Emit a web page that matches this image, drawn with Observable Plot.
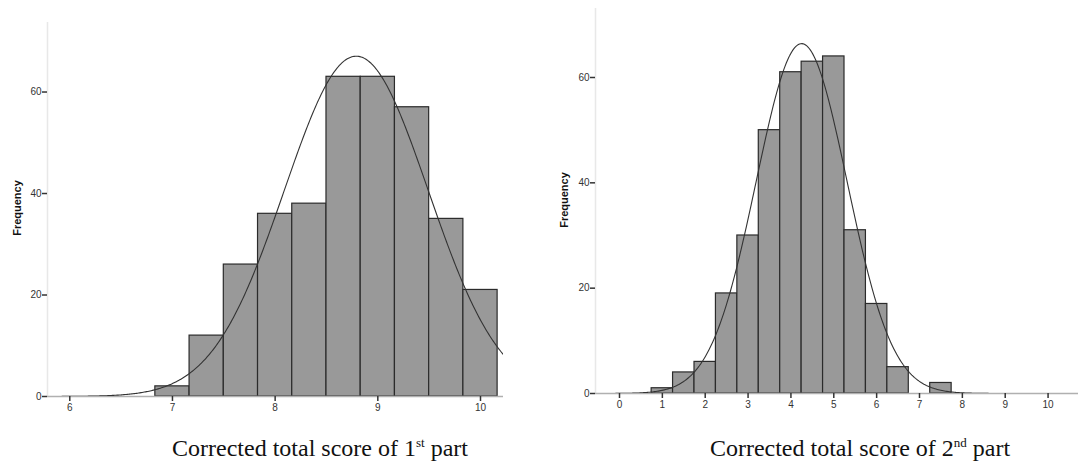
<!DOCTYPE html>
<html>
<head>
<meta charset="utf-8">
<script src="https://cdn.jsdelivr.net/npm/d3@7"></script>
<script src="https://cdn.jsdelivr.net/npm/@observablehq/plot@0.6"></script>
<style>
  html, body { margin: 0; padding: 0; background: #fff; }
  #root { position: relative; width: 1078px; height: 463px; overflow: hidden; }
  .panel { position: absolute; top: 0; }
  .caption { position: absolute; font-family: "Liberation Serif", "DejaVu Serif", serif; font-size: 24px; color: #111; white-space: nowrap; transform: translateX(-50%); }
  .caption sup { font-size: 13px; vertical-align: 9px; }
</style>
</head>
<body>
<div id="root"></div>
<script>
// ---- Panel 1 data: corrected total score of 1st part ----
const part1BinCenters = [7, 7.3333, 7.6667, 8, 8.3333, 8.6667, 9, 9.3333, 9.6667, 10];
const part1Counts     = [2, 12, 26, 36, 38, 63, 63, 57, 35, 21];
const part1BinWidth = 1 / 3;
const part1Mean = 8.79;
const part1SD = 0.70;
const part1XTicks = [6, 7, 8, 9, 10];

// ---- Panel 2 data: corrected total score of 2nd part ----
const part2BinCenters = [1, 1.5, 2, 2.5, 3, 3.5, 4, 4.5, 5, 5.5, 6, 6.5, 7, 7.5];
const part2Counts     = [1, 4, 6, 19, 30, 50, 61, 63, 64, 31, 17, 5, 0, 2];
const part2BinWidth = 0.5;
const part2Mean = 4.25;
const part2SD = 1.06;
const part2XTicks = [0, 1, 2, 3, 4, 5, 6, 7, 8, 9, 10];

const yTicks = [0, 20, 40, 60];

function histogram(opts) {
  const {centers, counts, binWidth, mean, sd, xDomain, yDomain, xTicks,
         width, height, marginLeft, marginRight, marginTop, marginBottom} = opts;
  const bins = centers.map((c, i) => ({x1: c - binWidth / 2, x2: c + binWidth / 2, count: counts[i]}))
                      .filter(d => d.count > 0);
  const n = d3.sum(counts);
  const curve = d3.range(0, 401).map(i => {
    const x = xDomain[0] + (xDomain[1] - xDomain[0]) * i / 400;
    const z = (x - mean) / sd;
    return {x, y: n * binWidth * Math.exp(-0.5 * z * z) / (sd * Math.sqrt(2 * Math.PI))};
  });
  return Plot.plot({
    width, height, marginLeft, marginRight, marginTop, marginBottom,
    style: {fontFamily: "Liberation Sans, Arial, sans-serif", fontSize: "10px", color: "#333", background: "transparent"},
    x: {domain: xDomain, ticks: xTicks, tickSize: 5, tickPadding: 2, label: null, tickFormat: "d"},
    y: {domain: yDomain, ticks: yTicks, tickSize: 5, tickPadding: 1, label: null, tickFormat: "d"},
    marks: [
      Plot.ruleX([xDomain[0]], {y1: 0, y2: yDomain[1], stroke: "#e8e8e8", strokeWidth: 1.5}),
      Plot.rectY(bins, {x1: "x1", x2: "x2", y: "count", fill: "#999999", stroke: "#2b2b2b", strokeWidth: 1.2, inset: 0}),
      Plot.ruleY([0], {stroke: "#b0b0b0", strokeWidth: 1.5}),
      Plot.line(curve, {x: "x", y: "y", stroke: "#333", strokeWidth: 1.1, clip: true}),
      Plot.axisX({ticks: xTicks, tickFormat: "d", tickSize: 5, tickPadding: 2, stroke: "#333", strokeWidth: 1.5, fill: "#333"}),
      Plot.axisY({ticks: yTicks, tickFormat: "d", tickSize: 5, tickPadding: 1, stroke: "#333", strokeWidth: 1.5, fill: "#333"})
    ]
  });
}

const root = document.getElementById("root");

function addPanel(left, width, chartOpts, freqX, freqY, captionX, captionHTML) {
  const div = document.createElement("div");
  div.className = "panel";
  div.style.left = left + "px";
  div.style.width = width + "px";
  div.appendChild(histogram(chartOpts));
  root.appendChild(div);

  const f = document.createElement("div");
  f.textContent = "Frequency";
  f.style.cssText = `position:absolute;left:${freqX}px;top:${freqY}px;transform:translate(-50%,-50%) rotate(-90deg);font-family:'Liberation Sans',Arial,sans-serif;font-weight:bold;font-size:11px;color:#111;white-space:nowrap;`;
  root.appendChild(f);

  const c = document.createElement("div");
  c.className = "caption";
  c.style.left = captionX + "px";
  c.style.top = "435px";
  c.innerHTML = captionHTML;
  root.appendChild(c);
}

addPanel(0, 540, {
  centers: part1BinCenters, counts: part1Counts, binWidth: part1BinWidth,
  mean: part1Mean, sd: part1SD, xDomain: [5.783, 10.224], yDomain: [0, 73.7], xTicks: part1XTicks,
  width: 540, height: 420, marginLeft: 47, marginRight: 37, marginTop: 22, marginBottom: 24
}, 17, 208, 320, "Corrected total score of 1<sup>st</sup> part");

addPanel(540, 538, {
  centers: part2BinCenters, counts: part2Counts, binWidth: part2BinWidth,
  mean: part2Mean, sd: part2SD, xDomain: [-0.56, 10.71], yDomain: [0, 73.1], xTicks: part2XTicks,
  width: 538, height: 420, marginLeft: 55, marginRight: 0, marginTop: 8, marginBottom: 27
}, 564, 200, 860, "Corrected total score of 2<sup>nd</sup> part");
</script>
</body>
</html>
